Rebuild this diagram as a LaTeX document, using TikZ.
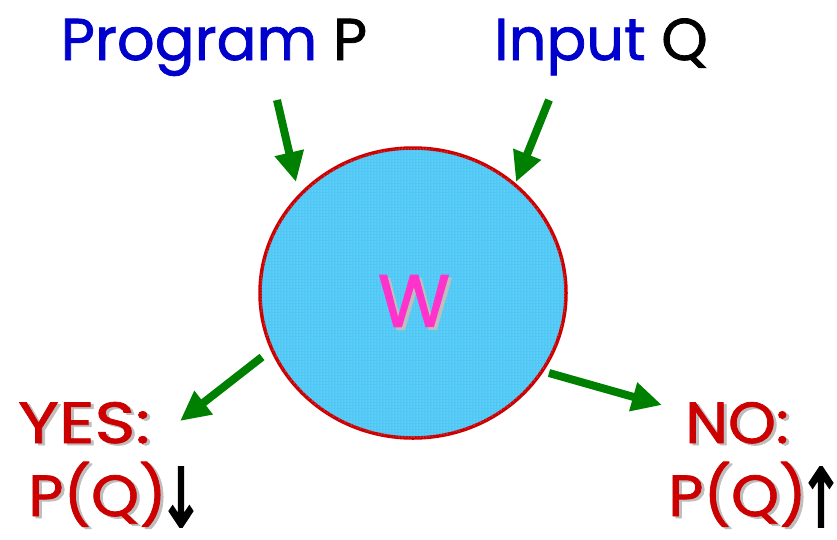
\documentclass[tikz,border=0pt]{standalone}
\usepackage{fontspec}
\usepackage{graphicx}
\setmainfont{Poppins}[FakeBold=1.3]
\newfontfamily\symfont{DejaVu Sans}[FakeBold=3]
\usetikzlibrary{arrows.meta,shapes.geometric,patterns}
\definecolor{tblue}{RGB}{0,0,204}
\definecolor{tred}{RGB}{204,0,0}
\definecolor{tgreen}{RGB}{0,128,0}
\definecolor{tpink}{RGB}{255,51,204}
\definecolor{tfill}{RGB}{80,200,245}
\definecolor{tdots}{RGB}{170,230,252}
\definecolor{tshadow}{RGB}{190,190,190}
\tikzset{
  lbl/.style={inner sep=0pt, font=\fontsize{59}{66}\selectfont},
  redlbl/.style={inner sep=0pt, font=\fontsize{58}{66}\selectfont\addfontfeature{FakeStretch=1.05}},
  arr/.style={inner sep=0pt, font=\fontsize{60}{66}\selectfont\symfont},
  garrow/.style={draw=tgreen, line width=8pt, -{Triangle[length=30pt,width=28pt]}},
  shad/.style={text=tshadow},
}
\begin{document}
\begin{tikzpicture}[x=1pt,y=-1pt]
\useasboundingbox (0,0) rectangle (837,539);
% circle
\node[ellipse, draw=tred, line width=3.5pt, fill=tfill, postaction={pattern=dots, pattern color=tdots}, minimum width=306pt, minimum height=290pt, inner sep=0pt] (w) at (413,293) {};
\node[lbl, shad, font=\fontsize{74}{80}\selectfont] (wsh) at (417,304) {W};
\node[lbl, text=tpink, font=\fontsize{74}{80}\selectfont] (wt) at (414,301) {W};
% top labels
\node[lbl, anchor=base] (prog) at (214,60) {\textcolor{tblue}{Program} P};
\node[lbl, anchor=base] (inp) at (601,60) {\textcolor{tblue}{Input} Q};
% bottom labels
\node[redlbl, shad, anchor=base west, font=\fontsize{58}{66}\selectfont\addfontfeature{FakeStretch=1.2}] (yessh) at (21,445) {YES:};
\node[redlbl, text=tred, anchor=base west, font=\fontsize{58}{66}\selectfont\addfontfeature{FakeStretch=1.2}] (yes) at (18,443) {YES:};
\node[redlbl, shad, anchor=base west] (pqysh) at (31,518) {P(Q)};
\node[redlbl, text=tred, anchor=base west] (pqy) at (28,516) {P(Q)};
\node[arr] (dn) at (181,497) {\scalebox{0.9}[1.35]{↓}};
\node[redlbl, shad, anchor=base west] (nosh) at (688,445) {NO:};
\node[redlbl, text=tred, anchor=base west] (no) at (685,443) {NO:};
\node[redlbl, shad, anchor=base west] (pqnsh) at (671,518) {P(Q)};
\node[redlbl, text=tred, anchor=base west] (pqn) at (668,516) {P(Q)};
\node[arr] (up) at (821,497) {\scalebox{0.9}[1.35]{↑}};
% arrow coordinates
\coordinate (a1s) at (277,100); \coordinate (a1e) at (296,182);
\coordinate (a2s) at (549,100); \coordinate (a2e) at (516,182);
\coordinate (a3s) at (262,357); \coordinate (a3e) at (180,421);
\coordinate (a4s) at (549,373); \coordinate (a4e) at (662,405);
\draw[garrow] (a1s) -- (a1e);
\draw[garrow] (a2s) -- (a2e);
\draw[garrow] (a3s) -- (a3e);
\draw[garrow] (a4s) -- (a4e);
\end{tikzpicture}
\end{document}
